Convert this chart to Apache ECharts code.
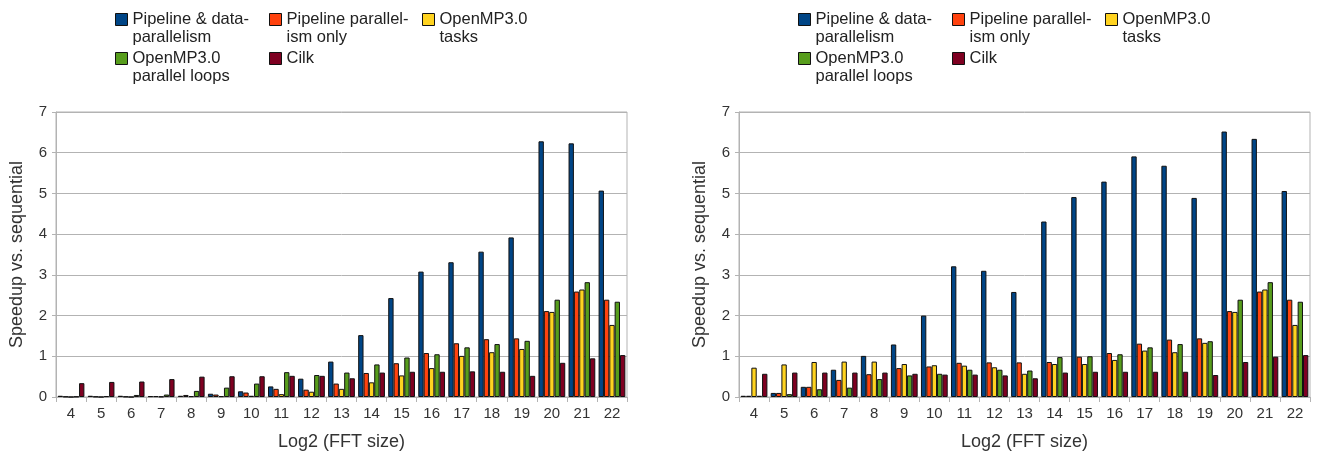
<!DOCTYPE html>
<html>
<head>
<meta charset="utf-8">
<script src="https://cdn.jsdelivr.net/npm/echarts@6/dist/echarts.min.js"></script>
<style>
html,body{margin:0;padding:0;background:#fff;}
#chart{width:1320px;height:458px;}
</style>
</head>
<body>
<div id="chart"></div>
<script>
// ---- data ----
const categories = ['4','5','6','7','8','9','10','11','12','13','14','15','16','17','18','19','20','21','22'];
const seriesNames = ['Pipeline & data-parallelism','Pipeline parallelism only','OpenMP3.0 tasks','OpenMP3.0 parallel loops','Cilk'];
const legendLines = [['Pipeline & data-','parallelism'],['Pipeline parallel-','ism only'],['OpenMP3.0','tasks'],['OpenMP3.0','parallel loops'],['Cilk']];
const yAxisName = 'Speedup vs. sequential';
const xAxisName = 'Log2 (FFT size)';

// left chart
const leftPipeData  = [0.03,0.03,0.03,0.02,0.03,0.08,0.14,0.26,0.45,0.87,1.52,2.43,3.08,3.31,3.57,3.92,6.28,6.23,5.07];
const leftPipeOnly  = [0.01,0.01,0.01,0.02,0.05,0.06,0.11,0.20,0.18,0.33,0.59,0.83,1.08,1.32,1.42,1.44,2.11,2.59,2.39];
const leftOmpTasks  = [0.00,0.00,0.00,0.01,0.02,0.02,0.03,0.07,0.13,0.20,0.36,0.53,0.71,1.01,1.10,1.18,2.09,2.64,1.77];
const leftOmpLoops  = [0.01,0.02,0.05,0.06,0.15,0.23,0.33,0.61,0.54,0.60,0.80,0.97,1.05,1.22,1.30,1.38,2.39,2.82,2.34];
const leftCilk      = [0.34,0.37,0.38,0.44,0.50,0.51,0.51,0.52,0.52,0.46,0.60,0.62,0.62,0.63,0.62,0.52,0.84,0.95,1.03];

// right chart
const rightPipeData = [0.03,0.10,0.25,0.67,1.01,1.29,2.00,3.21,3.10,2.58,4.31,4.91,5.29,5.91,5.68,4.89,6.52,6.34,5.06];
const rightPipeOnly = [0.03,0.10,0.25,0.42,0.56,0.71,0.75,0.84,0.85,0.85,0.86,0.99,1.08,1.31,1.41,1.44,2.11,2.59,2.39];
const rightOmpTasks = [0.72,0.80,0.86,0.87,0.87,0.81,0.78,0.77,0.73,0.57,0.81,0.81,0.91,1.14,1.10,1.33,2.09,2.64,1.77];
const rightOmpLoops = [0.03,0.07,0.19,0.23,0.44,0.53,0.57,0.67,0.67,0.65,0.98,1.00,1.05,1.22,1.30,1.37,2.39,2.82,2.34];
const rightCilk     = [0.57,0.60,0.60,0.60,0.60,0.57,0.55,0.55,0.53,0.46,0.60,0.62,0.62,0.62,0.62,0.54,0.86,0.99,1.03];

const colors = ['#004586','#ff420e','#ffd320','#579d1c','#7e0021'];
const FONT = 'Liberation Sans, Arial, sans-serif';

const chartData = [
  [leftPipeData, leftPipeOnly, leftOmpTasks, leftOmpLoops, leftCilk],
  [rightPipeData, rightPipeOnly, rightOmpTasks, rightOmpLoops, rightCilk]
];

const gridLefts = [56, 739];
const grids = gridLefts.map(l => ({
  left: l, top: 112, width: 571, height: 285,
  show: true, borderColor: '#b3b3b3', borderWidth: 1, backgroundColor: 'transparent'
}));

const xAxes = gridLefts.map((l, i) => ({
  type: 'category', gridIndex: i, data: categories,
  axisLine: {show: true, lineStyle: {color: '#b3b3b3', width: 1}},
  axisTick: {show: true, length: 5, lineStyle: {color: '#b3b3b3'}},
  axisLabel: {fontFamily: FONT, fontSize: 15, color: '#333', margin: 9},
  name: xAxisName, nameLocation: 'middle', nameGap: 36,
  nameTextStyle: {fontFamily: FONT, fontSize: 18, color: '#333'}
}));

const yAxes = gridLefts.map((l, i) => ({
  type: 'value', gridIndex: i, min: 0, max: 7, interval: 1,
  axisLine: {show: true, lineStyle: {color: '#b3b3b3', width: 1}},
  axisTick: {show: true, length: 4, lineStyle: {color: '#b3b3b3'}},
  splitLine: {show: true, lineStyle: {color: '#b3b3b3', width: 1}},
  axisLabel: {fontFamily: FONT, fontSize: 15, color: '#333', margin: 9},
  name: yAxisName, nameLocation: 'middle', nameGap: 30,
  nameTextStyle: {fontFamily: FONT, fontSize: 18, color: '#333'}
}));

const series = [];
chartData.forEach((set, ci) => {
  set.forEach((vals, si) => {
    series.push({
      type: 'bar', name: seriesNames[si],
      xAxisIndex: ci, yAxisIndex: ci,
      data: vals,
      barGap: '0%', barCategoryGap: '11%',
      itemStyle: {color: colors[si], borderColor: '#111', borderWidth: 1},
      emphasis: {disabled: true}
    });
  });
});

// legend placement (icon left, box top) for each item
const legendPos = [[115,-7.5],[269,-7.5],[422,-7.5],[115,31.5],[269,49.5]];
const legendOffset = [0, 683];
const legends = [];
legendOffset.forEach(off => {
  seriesNames.forEach((nm, si) => {
    const lines = legendLines[si];
    // a leading blank line keeps the first text line level with the icon
    const label = lines.length > 1 ? ' \n' + lines.join('\n') : lines[0];
    legends.push({
      data: [nm],
      left: legendPos[si][0] + off, top: legendPos[si][1],
      orient: 'horizontal', padding: 0,
      itemWidth: 12, itemHeight: 12, icon: 'rect',
      selectedMode: false,
      itemStyle: {borderColor: '#111', borderWidth: 1},
      formatter: () => label,
      textStyle: {fontFamily: FONT, fontSize: 16.5, color: '#222', lineHeight: 18}
    });
  });
});

const chart = echarts.init(document.getElementById('chart'), null, {renderer: 'canvas'});
chart.setOption({
  animation: false,
  backgroundColor: '#ffffff',
  textStyle: {fontFamily: FONT},
  legend: legends,
  grid: grids,
  xAxis: xAxes,
  yAxis: yAxes,
  series: series
});
</script>
</body>
</html>
